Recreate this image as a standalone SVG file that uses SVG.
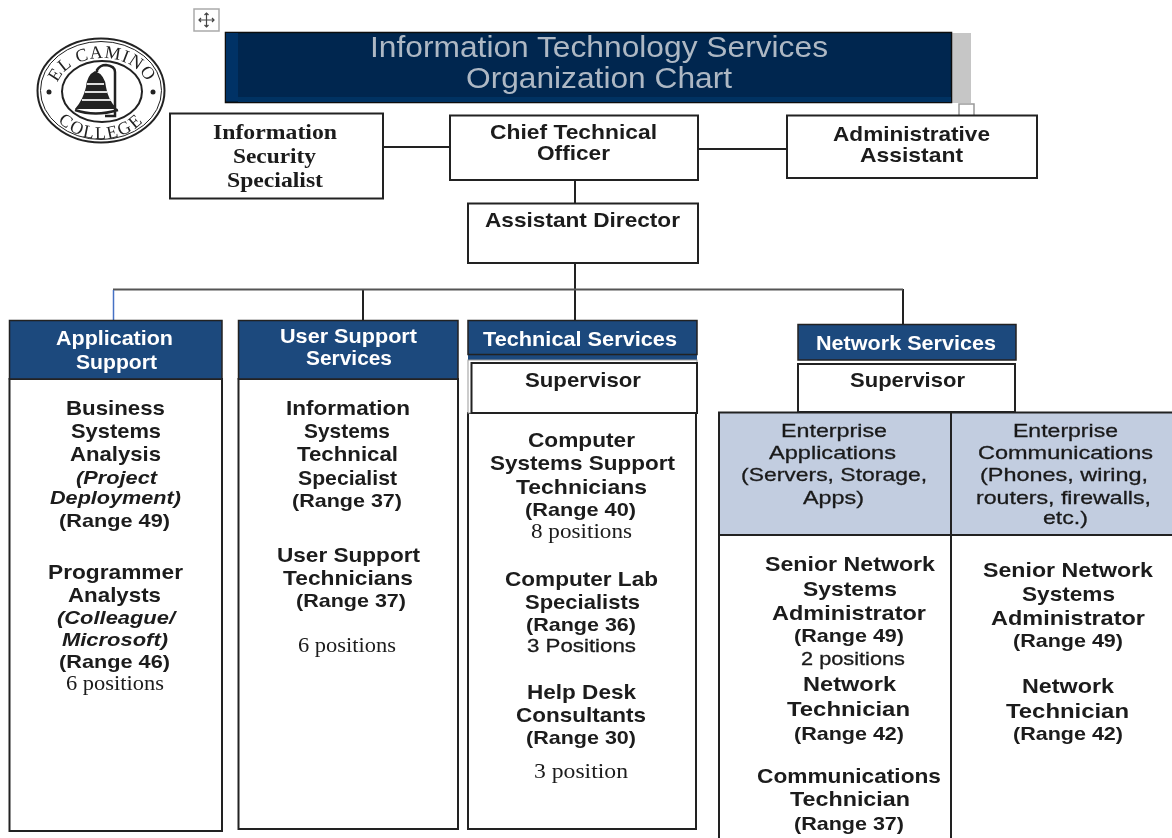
<svg xmlns="http://www.w3.org/2000/svg" width="1172" height="838" viewBox="0 0 1172 838">
<style>
text{font-family:"Liberation Sans",Arial,sans-serif;font-weight:bold;fill:#1a1a1a;font-size:21px}
.m{font-size:19px;font-weight:bold}
.h{fill:#fff;font-size:20px}
.s{font-family:"Liberation Serif","Times New Roman",serif;font-weight:normal;font-size:21px}
.b{font-family:"Liberation Serif","Times New Roman",serif;font-weight:bold;font-size:22px}
.i{font-style:italic;font-size:19px}
.e{font-size:19px;font-weight:normal;stroke:#1a1a1a;stroke-width:.3}
.ttl{fill:#aeb8c4;font-weight:normal;font-size:30px}
.logo{font-family:"Liberation Serif","Times New Roman",serif;font-weight:normal;font-size:18px;fill:#222;text-anchor:middle}
.box{fill:#fff;stroke:#222;stroke-width:2}
.hd{fill:#1f497d;stroke:#222;stroke-width:1.5}
.cell{fill:#c2cde0;stroke:#222;stroke-width:2}
.ln{fill:none;stroke:#222;stroke-width:2}
</style>
<defs>
<filter id="soft" x="-5%" y="-5%" width="110%" height="110%"><feGaussianBlur stdDeviation="0.35"/></filter>
<path id="arcTop" d="M56 91A46 33 0 0 1 148 91"/>
<path id="arcBot" d="M46 91A55 48 0 0 0 156 91"/>
</defs>
<rect width="1172" height="838" fill="#fff"/>
<g filter="url(#soft)">
<g id="move-handle">
<rect x="194" y="9" width="25" height="22" fill="#fff" stroke="#aaa" stroke-width="1.5"/>
<path d="M206.500 13V27M199 20H214M204.500 15L206.500 13L208.500 15M204.500 25L206.500 27L208.500 25M201 18L199 20L201 22M212 18L214 20L212 22" fill="none" stroke="#444" stroke-width="1.2"/>
</g>
<g id="logo">
<ellipse cx="101" cy="90.500" rx="63.500" ry="52" fill="#fff" stroke="#222" stroke-width="2"/>
<ellipse cx="101" cy="90.500" rx="60.500" ry="49" fill="none" stroke="#222" stroke-width="1"/>
<ellipse cx="102" cy="91.500" rx="40" ry="30.500" fill="#fff" stroke="#222" stroke-width="2"/>
<text class="logo" letter-spacing="1"><textPath href="#arcTop" startOffset="50%">EL CAMINO</textPath></text>
<text class="logo" letter-spacing="2"><textPath href="#arcBot" startOffset="50%">COLLEGE</textPath></text>
<circle cx="49" cy="92" r="2.500" fill="#222"/><circle cx="153" cy="92" r="2.500" fill="#222"/>
<path d="M95 71Q87 75 86 87Q83 100 75 109L117 109Q108 100 106 87Q105 75 95 71Z" fill="#222"/>
<path d="M87 84H104M85 92H107M82 100H111" stroke="#ddd" stroke-width="2" fill="none"/>
<path d="M97 72V70Q100 65 106 65Q115 66 115 72V116H105M75 110Q95 117 118 110" fill="none" stroke="#222" stroke-width="2.500"/>
</g>
<g id="connectors">
<path class="ln" d="M383 147H450M698 149H787M575 180V203M575 263V320M363 289V320M903 289V324"/>
<path d="M113 289.500H903" fill="none" stroke="#555" stroke-width="2"/>
<path d="M113.500 290V320" fill="none" stroke="#4472c4" stroke-width="1.500"/>
</g>
<g id="title">
<rect x="952" y="33" width="19" height="70" fill="#c6c6c6"/>
<rect x="225.500" y="32.500" width="726" height="70" fill="#00274f" stroke="#111" stroke-width="1.500"/>
<rect x="226" y="33" width="12" height="68" fill="#003366"/>
<rect x="238" y="97" width="713" height="5" fill="#003062"/>
<text class="ttl" x="370" y="57" textLength="458" lengthAdjust="spacingAndGlyphs">Information Technology Services</text>
<text class="ttl" x="466" y="88" textLength="266" lengthAdjust="spacingAndGlyphs">Organization Chart</text>
<rect x="959" y="104" width="15" height="13" fill="#fff" stroke="#999" stroke-width="1.500"/>
</g>
<g id="info-security">
<rect class="box" x="170" y="113.500" width="213" height="85"/>
<text class="b" x="213" y="139" textLength="124" lengthAdjust="spacingAndGlyphs">Information</text>
<text class="b" x="233" y="163" textLength="83" lengthAdjust="spacingAndGlyphs">Security</text>
<text class="b" x="227" y="187" textLength="96" lengthAdjust="spacingAndGlyphs">Specialist</text>
</g>
<g id="cto">
<rect class="box" x="450" y="115.500" width="248" height="64.500"/>
<text x="490" y="139" textLength="167" lengthAdjust="spacingAndGlyphs">Chief Technical</text>
<text x="537" y="160" textLength="73" lengthAdjust="spacingAndGlyphs">Officer</text>
</g>
<g id="admin">
<rect class="box" x="787" y="115.500" width="250" height="62.500"/>
<text x="833" y="141" textLength="157" lengthAdjust="spacingAndGlyphs">Administrative</text>
<text x="860" y="162" textLength="103" lengthAdjust="spacingAndGlyphs">Assistant</text>
</g>
<g id="assistant-director">
<rect class="box" x="468" y="203.500" width="230" height="59.500"/>
<text x="485" y="227" textLength="195" lengthAdjust="spacingAndGlyphs">Assistant Director</text>
</g>
<g id="application-support">
<rect class="box" x="9.500" y="379" width="212.500" height="452"/>
<rect class="hd" x="9.500" y="320.500" width="212.500" height="58.500"/>
<text class="h" x="56" y="345" textLength="117" lengthAdjust="spacingAndGlyphs">Application</text>
<text class="h" x="76" y="369" textLength="81" lengthAdjust="spacingAndGlyphs">Support</text>
<text x="66" y="415" textLength="99" lengthAdjust="spacingAndGlyphs">Business</text>
<text x="71" y="438" textLength="90" lengthAdjust="spacingAndGlyphs">Systems</text>
<text x="70" y="461" textLength="91" lengthAdjust="spacingAndGlyphs">Analysis</text>
<text class="i" x="76" y="484" textLength="81" lengthAdjust="spacingAndGlyphs">(Project</text>
<text class="i" x="50" y="504" textLength="131" lengthAdjust="spacingAndGlyphs">Deployment)</text>
<text class="m" x="59" y="527" textLength="111" lengthAdjust="spacingAndGlyphs">(Range 49)</text>
<text x="48" y="579" textLength="135" lengthAdjust="spacingAndGlyphs">Programmer</text>
<text x="68" y="602" textLength="93" lengthAdjust="spacingAndGlyphs">Analysts</text>
<text class="i" x="57" y="624" textLength="118" lengthAdjust="spacingAndGlyphs">(Colleague/</text>
<text class="i" x="62" y="646" textLength="106" lengthAdjust="spacingAndGlyphs">Microsoft)</text>
<text class="m" x="59" y="668" textLength="111" lengthAdjust="spacingAndGlyphs">(Range 46)</text>
<text class="s" x="66" y="690" textLength="98" lengthAdjust="spacingAndGlyphs">6 positions</text>
</g>
<g id="user-support">
<rect class="box" x="238.500" y="379" width="219.500" height="450"/>
<rect class="hd" x="238.500" y="320.500" width="219.500" height="58.500"/>
<text class="h" x="280" y="343" textLength="137" lengthAdjust="spacingAndGlyphs">User Support</text>
<text class="h" x="306" y="365" textLength="86" lengthAdjust="spacingAndGlyphs">Services</text>
<text x="286" y="415" textLength="124" lengthAdjust="spacingAndGlyphs">Information</text>
<text x="304" y="438" textLength="86" lengthAdjust="spacingAndGlyphs">Systems</text>
<text x="297" y="461" textLength="101" lengthAdjust="spacingAndGlyphs">Technical</text>
<text x="298" y="485" textLength="99" lengthAdjust="spacingAndGlyphs">Specialist</text>
<text class="m" x="292" y="507" textLength="110" lengthAdjust="spacingAndGlyphs">(Range 37)</text>
<text x="277" y="562" textLength="143" lengthAdjust="spacingAndGlyphs">User Support</text>
<text x="283" y="585" textLength="130" lengthAdjust="spacingAndGlyphs">Technicians</text>
<text class="m" x="296" y="607" textLength="110" lengthAdjust="spacingAndGlyphs">(Range 37)</text>
<text class="s" x="298" y="652" textLength="98" lengthAdjust="spacingAndGlyphs">6 positions</text>
</g>
<g id="technical-services">
<rect class="box" x="468" y="413" width="228" height="416"/>
<rect x="468" y="320.500" width="229" height="40" fill="#1f497d"/>
<rect class="hd" x="468" y="320.500" width="229" height="34"/>
<rect x="468" y="360" width="229" height="53" fill="#fff" stroke="#999" stroke-width="1"/>
<rect class="box" x="471.500" y="363" width="225.500" height="50"/>
<text class="h" x="483" y="346" textLength="194" lengthAdjust="spacingAndGlyphs">Technical Services</text>
<text x="525" y="387" textLength="116" lengthAdjust="spacingAndGlyphs">Supervisor</text>
<text x="528" y="447" textLength="107" lengthAdjust="spacingAndGlyphs">Computer</text>
<text x="490" y="470" textLength="185" lengthAdjust="spacingAndGlyphs">Systems Support</text>
<text x="516" y="494" textLength="131" lengthAdjust="spacingAndGlyphs">Technicians</text>
<text class="m" x="525" y="516" textLength="111" lengthAdjust="spacingAndGlyphs">(Range 40)</text>
<text class="s" x="531" y="538" textLength="101" lengthAdjust="spacingAndGlyphs">8 positions</text>
<text x="505" y="586" textLength="153" lengthAdjust="spacingAndGlyphs">Computer Lab</text>
<text x="525" y="609" textLength="115" lengthAdjust="spacingAndGlyphs">Specialists</text>
<text class="m" x="526" y="631" textLength="110" lengthAdjust="spacingAndGlyphs">(Range 36)</text>
<text class="e" x="527" y="652" textLength="109" lengthAdjust="spacingAndGlyphs">3 Positions</text>
<text x="527" y="699" textLength="109" lengthAdjust="spacingAndGlyphs">Help Desk</text>
<text x="516" y="722" textLength="130" lengthAdjust="spacingAndGlyphs">Consultants</text>
<text class="m" x="526" y="744" textLength="110" lengthAdjust="spacingAndGlyphs">(Range 30)</text>
<text class="s" x="534" y="778" textLength="94" lengthAdjust="spacingAndGlyphs">3 position</text>
</g>
<g id="network-services">
<rect class="hd" x="798" y="324.500" width="218" height="35.500"/>
<rect class="box" x="798" y="364" width="217" height="48"/>
<text class="h" x="816" y="350" textLength="180" lengthAdjust="spacingAndGlyphs">Network Services</text>
<text x="850" y="387" textLength="115" lengthAdjust="spacingAndGlyphs">Supervisor</text>
</g>
<g id="enterprise-applications">
<path class="ln" d="M719 535V838M719 535H951"/>
<rect class="cell" x="719" y="412.500" width="232" height="122.500"/>
<text class="e" x="781" y="437" textLength="106" lengthAdjust="spacingAndGlyphs">Enterprise</text>
<text class="e" x="769" y="459" textLength="127" lengthAdjust="spacingAndGlyphs">Applications</text>
<text class="e" x="741" y="481" textLength="186" lengthAdjust="spacingAndGlyphs">(Servers, Storage,</text>
<text class="e" x="803" y="504" textLength="61" lengthAdjust="spacingAndGlyphs">Apps)</text>
<text x="765" y="571" textLength="170" lengthAdjust="spacingAndGlyphs">Senior Network</text>
<text x="803" y="596" textLength="94" lengthAdjust="spacingAndGlyphs">Systems</text>
<text x="772" y="620" textLength="154" lengthAdjust="spacingAndGlyphs">Administrator</text>
<text class="m" x="794" y="642" textLength="110" lengthAdjust="spacingAndGlyphs">(Range 49)</text>
<text class="e" x="801" y="665" textLength="104" lengthAdjust="spacingAndGlyphs">2 positions</text>
<text x="803" y="691" textLength="93" lengthAdjust="spacingAndGlyphs">Network</text>
<text x="787" y="716" textLength="123" lengthAdjust="spacingAndGlyphs">Technician</text>
<text class="m" x="794" y="740" textLength="110" lengthAdjust="spacingAndGlyphs">(Range 42)</text>
<text x="757" y="783" textLength="184" lengthAdjust="spacingAndGlyphs">Communications</text>
<text x="790" y="806" textLength="120" lengthAdjust="spacingAndGlyphs">Technician</text>
<text class="m" x="794" y="830" textLength="110" lengthAdjust="spacingAndGlyphs">(Range 37)</text>
</g>
<g id="enterprise-communications">
<path class="ln" d="M951 535V838M951 535H1172"/>
<rect class="cell" x="951" y="412.500" width="223" height="122.500"/>
<text class="e" x="1013" y="437" textLength="105" lengthAdjust="spacingAndGlyphs">Enterprise</text>
<text class="e" x="978" y="459" textLength="175" lengthAdjust="spacingAndGlyphs">Communications</text>
<text class="e" x="980" y="481" textLength="168" lengthAdjust="spacingAndGlyphs">(Phones, wiring,</text>
<text class="e" x="976" y="504" textLength="175" lengthAdjust="spacingAndGlyphs">routers, firewalls,</text>
<text class="e" x="1043" y="524" textLength="45" lengthAdjust="spacingAndGlyphs">etc.)</text>
<text x="983" y="577" textLength="170" lengthAdjust="spacingAndGlyphs">Senior Network</text>
<text x="1022" y="601" textLength="93" lengthAdjust="spacingAndGlyphs">Systems</text>
<text x="991" y="625" textLength="154" lengthAdjust="spacingAndGlyphs">Administrator</text>
<text class="m" x="1013" y="647" textLength="110" lengthAdjust="spacingAndGlyphs">(Range 49)</text>
<text x="1022" y="693" textLength="92" lengthAdjust="spacingAndGlyphs">Network</text>
<text x="1006" y="718" textLength="123" lengthAdjust="spacingAndGlyphs">Technician</text>
<text class="m" x="1013" y="740" textLength="110" lengthAdjust="spacingAndGlyphs">(Range 42)</text>
</g>
</g>
</svg>
